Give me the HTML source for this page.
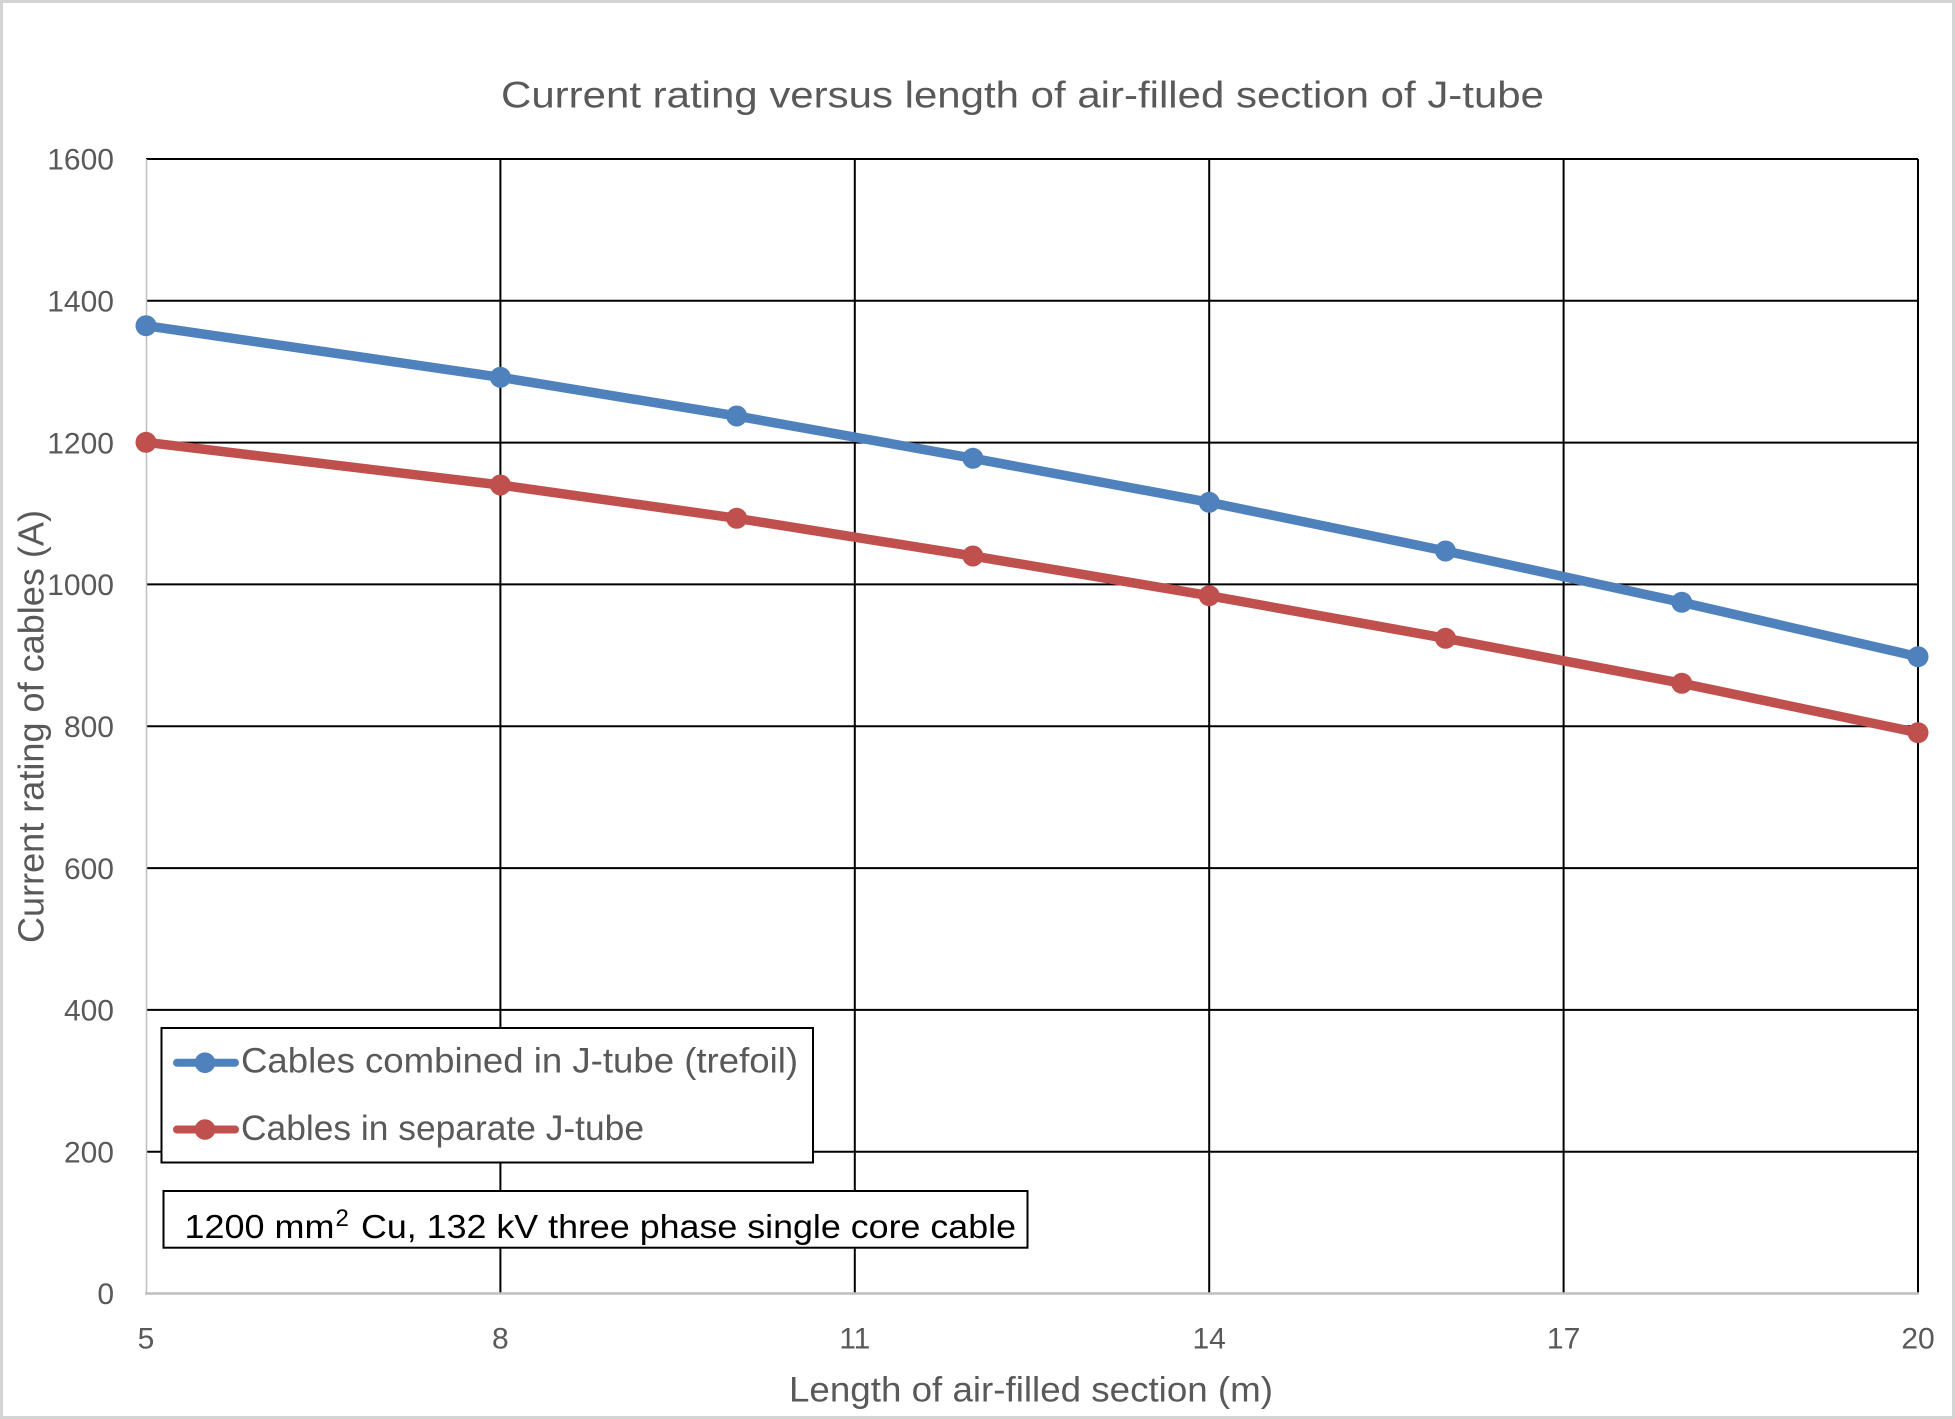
<!DOCTYPE html>
<html>
<head>
<meta charset="utf-8">
<style>
  html, body { margin: 0; padding: 0; background: #ffffff; }
  svg { display: block; }
  text { font-family: "Liberation Sans", "DejaVu Sans", sans-serif; }
</style>
</head>
<body>
<svg width="1955" height="1419" viewBox="0 0 1955 1419" xmlns="http://www.w3.org/2000/svg">
  <!-- background and outer frame -->
  <rect x="0" y="0" width="1955" height="1419" fill="#ffffff"/>
  <rect x="1.5" y="1.5" width="1952" height="1416" fill="none" stroke="#d4d4d4" stroke-width="3"/>

  <!-- title -->
  <text x="501" y="107.3" font-size="37" fill="#595959" textLength="1043" lengthAdjust="spacingAndGlyphs">Current rating versus length of air-filled section of J-tube</text>

  <!-- horizontal gridlines -->
  <g stroke="#000000" stroke-width="2">
    <line x1="146" y1="159" x2="1918" y2="159"/>
    <line x1="146" y1="300.8" x2="1918" y2="300.8"/>
    <line x1="146" y1="442.6" x2="1918" y2="442.6"/>
    <line x1="146" y1="584.4" x2="1918" y2="584.4"/>
    <line x1="146" y1="726.3" x2="1918" y2="726.3"/>
    <line x1="146" y1="868.1" x2="1918" y2="868.1"/>
    <line x1="146" y1="1009.9" x2="1918" y2="1009.9"/>
    <line x1="146" y1="1151.7" x2="1918" y2="1151.7"/>
  </g>
  <!-- vertical gridlines -->
  <g stroke="#000000" stroke-width="2">
    <line x1="500.4" y1="159" x2="500.4" y2="1293.5"/>
    <line x1="854.8" y1="159" x2="854.8" y2="1293.5"/>
    <line x1="1209.2" y1="159" x2="1209.2" y2="1293.5"/>
    <line x1="1563.6" y1="159" x2="1563.6" y2="1293.5"/>
    <line x1="1918" y1="159" x2="1918" y2="1293.5"/>
  </g>
  <!-- axes -->
  <line x1="146.5" y1="159" x2="146.5" y2="1294" stroke="#bfbfbf" stroke-width="1.5"/>
  <line x1="145" y1="1293.5" x2="1919" y2="1293.5" stroke="#bfbfbf" stroke-width="2.5"/>

  <!-- y tick labels -->
  <g font-size="30" fill="#595959" text-anchor="end">
    <text x="114" y="169.7">1600</text>
    <text x="114" y="311.5">1400</text>
    <text x="114" y="453.3">1200</text>
    <text x="114" y="595.1">1000</text>
    <text x="114" y="737">800</text>
    <text x="114" y="878.8">600</text>
    <text x="114" y="1020.6">400</text>
    <text x="114" y="1162.4">200</text>
    <text x="114" y="1304.2">0</text>
  </g>
  <!-- x tick labels -->
  <g font-size="30" fill="#595959" text-anchor="middle">
    <text x="146" y="1348.3">5</text>
    <text x="500.4" y="1348.3">8</text>
    <text x="854.8" y="1348.3">11</text>
    <text x="1209.2" y="1348.3">14</text>
    <text x="1563.6" y="1348.3">17</text>
    <text x="1918" y="1348.3">20</text>
  </g>

  <!-- axis titles -->
  <text x="789" y="1401.7" font-size="35" fill="#595959" textLength="484" lengthAdjust="spacingAndGlyphs">Length of air-filled section (m)</text>
  <text transform="translate(43.3,943) rotate(-90)" x="0" y="0" font-size="36" fill="#595959" textLength="433" lengthAdjust="spacingAndGlyphs">Current rating of cables (A)</text>

  <!-- series: blue -->
  <polyline fill="none" stroke="#4f81bd" stroke-width="9.5" stroke-linejoin="round" stroke-linecap="round"
    points="146,325.7 500.4,377.3 736.7,416 972.9,458.3 1209.2,502.3 1445.5,551 1681.8,602.3 1918,656.7"/>
  <g fill="#4f81bd">
    <circle cx="146" cy="325.7" r="10.5"/>
    <circle cx="500.4" cy="377.3" r="10.5"/>
    <circle cx="736.7" cy="416" r="10.5"/>
    <circle cx="972.9" cy="458.3" r="10.5"/>
    <circle cx="1209.2" cy="502.3" r="10.5"/>
    <circle cx="1445.5" cy="551" r="10.5"/>
    <circle cx="1681.8" cy="602.3" r="10.5"/>
    <circle cx="1918" cy="656.7" r="10.5"/>
  </g>

  <!-- series: red -->
  <polyline fill="none" stroke="#c0504d" stroke-width="9.5" stroke-linejoin="round" stroke-linecap="round"
    points="146,442.3 500.4,485 736.7,518.3 972.9,556 1209.2,595.7 1445.5,638.3 1681.8,683.3 1918,732.7"/>
  <g fill="#c0504d">
    <circle cx="146" cy="442.3" r="10.5"/>
    <circle cx="500.4" cy="485" r="10.5"/>
    <circle cx="736.7" cy="518.3" r="10.5"/>
    <circle cx="972.9" cy="556" r="10.5"/>
    <circle cx="1209.2" cy="595.7" r="10.5"/>
    <circle cx="1445.5" cy="638.3" r="10.5"/>
    <circle cx="1681.8" cy="683.3" r="10.5"/>
    <circle cx="1918" cy="732.7" r="10.5"/>
  </g>

  <!-- legend -->
  <rect x="161.5" y="1028" width="651.5" height="134.5" fill="#ffffff" stroke="#000000" stroke-width="2"/>
  <line x1="177" y1="1062.7" x2="235" y2="1062.7" stroke="#4f81bd" stroke-width="8" stroke-linecap="round"/>
  <circle cx="205" cy="1062.7" r="10.3" fill="#4f81bd"/>
  <text x="241" y="1072.7" font-size="35" fill="#595959" textLength="557" lengthAdjust="spacingAndGlyphs">Cables combined in J-tube (trefoil)</text>
  <line x1="177" y1="1129.5" x2="235" y2="1129.5" stroke="#c0504d" stroke-width="8" stroke-linecap="round"/>
  <circle cx="205" cy="1129.5" r="10.3" fill="#c0504d"/>
  <text x="241" y="1140" font-size="35" fill="#595959" textLength="403" lengthAdjust="spacingAndGlyphs">Cables in separate J-tube</text>

  <!-- annotation box -->
  <rect x="163.5" y="1191" width="864" height="56.7" fill="#ffffff" stroke="#000000" stroke-width="2"/>
  <text x="184.5" y="1238" font-size="33" fill="#000000" textLength="150" lengthAdjust="spacingAndGlyphs">1200 mm</text>
  <text x="335.5" y="1226" font-size="24" fill="#000000">2</text>
  <text x="361" y="1238" font-size="33" fill="#000000" textLength="655" lengthAdjust="spacingAndGlyphs">Cu, 132 kV three phase single core cable</text>
</svg>
</body>
</html>
